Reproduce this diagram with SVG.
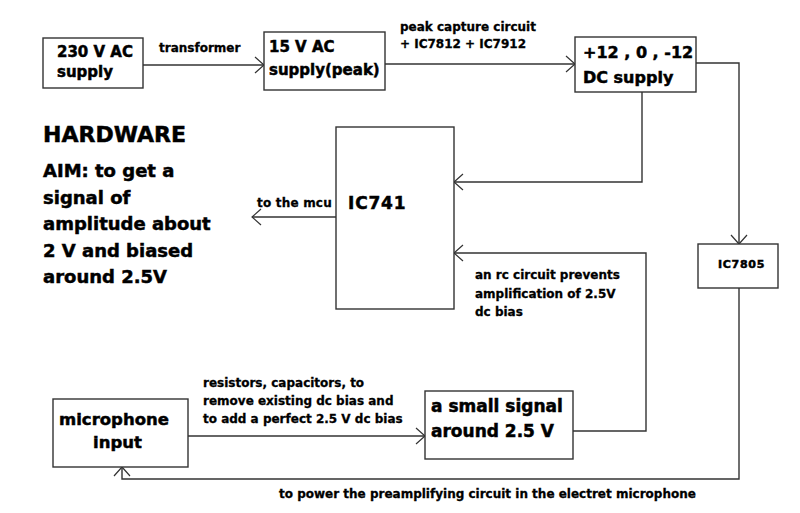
<svg xmlns="http://www.w3.org/2000/svg" width="800" height="513" viewBox="0 0 800 513">
<style>
text{font-family:"DejaVu Sans","Liberation Sans",sans-serif;font-weight:bold;fill:#000;stroke:#000;stroke-width:0.5}
.box{fill:#fff;stroke:#333;stroke-width:1.4}
.wire{fill:none;stroke:#333;stroke-width:1.4}
.s12{font-size:12px;stroke-width:0.3}
.s15{font-size:15px}
.s16{font-size:16px}
.s17{font-size:17px}
.s18{font-size:18px}
</style>
<defs>
<marker id="arr" markerUnits="userSpaceOnUse" markerWidth="20" markerHeight="20" viewBox="-10 -10 20 20" refX="0" refY="0" orient="auto">
<path d="M-9,-8 L0,0 L-9,8" fill="none" stroke="#333" stroke-width="1.2"/>
</marker>
</defs>
<rect width="800" height="513" fill="#fff"/>
<g id="connectors">
<path class="wire" d="M143,65 H264" marker-end="url(#arr)"/>
<path class="wire" d="M385,64 H575" marker-end="url(#arr)"/>
<path class="wire" d="M696,63 H739 V244" marker-end="url(#arr)"/>
<path class="wire" d="M642,92 V182 H454" marker-end="url(#arr)"/>
<path class="wire" d="M573,431 H646 V253 H454" marker-end="url(#arr)"/>
<path class="wire" d="M336,217 H252" marker-end="url(#arr)"/>
<path class="wire" d="M739,288 V479 H122 V467" marker-end="url(#arr)"/>
<path class="wire" d="M188,436 H425" marker-end="url(#arr)"/>
<text class="s12" x="159" y="52">transformer</text>
<text class="s12" x="400" y="31">peak capture circuit</text>
<text class="s12" x="400" y="48">+ IC7812 + IC7912</text>
<text class="s12" x="257" y="207" letter-spacing="0.2">to the mcu</text>
<text class="s12" x="475" y="279">an rc circuit prevents</text>
<text class="s12" x="475" y="298">amplification of 2.5V</text>
<text class="s12" x="475" y="316">dc bias</text>
<text class="s12" x="203" y="387">resistors, capacitors, to</text>
<text class="s12" x="203" y="405">remove existing dc bias and</text>
<text class="s12" x="203" y="423">to add a perfect 2.5 V dc bias</text>
<text class="s12" x="279" y="498">to power the preamplifying circuit in the electret microphone</text>
</g>
<g id="title">
<text x="43" y="142" font-size="22px">HARDWARE</text>
<text class="s18" x="43" y="177">AIM: to get a</text>
<text class="s18" x="43" y="203.5">signal of</text>
<text class="s18" x="43" y="230">amplitude about</text>
<text class="s18" x="43" y="256.5">2 V and biased</text>
<text class="s18" x="43" y="283">around 2.5V</text>
</g>
<g id="ac230">
<rect class="box" x="43" y="38" width="100" height="50"/>
<text class="s15" x="57" y="57">230 V AC</text>
<text class="s15" x="57" y="77">supply</text>
</g>
<g id="ac15">
<rect class="box" x="264" y="32" width="121" height="58"/>
<text class="s15" x="269" y="52">15 V AC</text>
<text class="s15" x="269" y="75">supply(peak)</text>
</g>
<g id="dcsupply">
<rect class="box" x="575" y="37" width="121" height="55"/>
<text class="s16" x="583" y="58">+12 , 0 , -12</text>
<text class="s16" x="583" y="83">DC supply</text>
</g>
<g id="ic741">
<rect class="box" x="336" y="127" width="118" height="182"/>
<text class="s17" x="348" y="209" letter-spacing="0.8">IC741</text>
</g>
<g id="ic7805">
<rect class="box" x="698" y="244" width="80" height="44"/>
<text x="718" y="268" font-size="11px" letter-spacing="0.7" stroke-width="0.3">IC7805</text>
</g>
<g id="microphone">
<rect class="box" x="53" y="399" width="135" height="68"/>
<text x="59" y="425" font-size="16.5px">microphone</text>
<text x="93" y="448" font-size="16.5px">input</text>
</g>
<g id="smallsignal">
<rect class="box" x="425" y="391" width="148" height="68"/>
<text class="s17" x="431" y="412">a small signal</text>
<text class="s17" x="431" y="437">around 2.5 V</text>
</g>
</svg>
